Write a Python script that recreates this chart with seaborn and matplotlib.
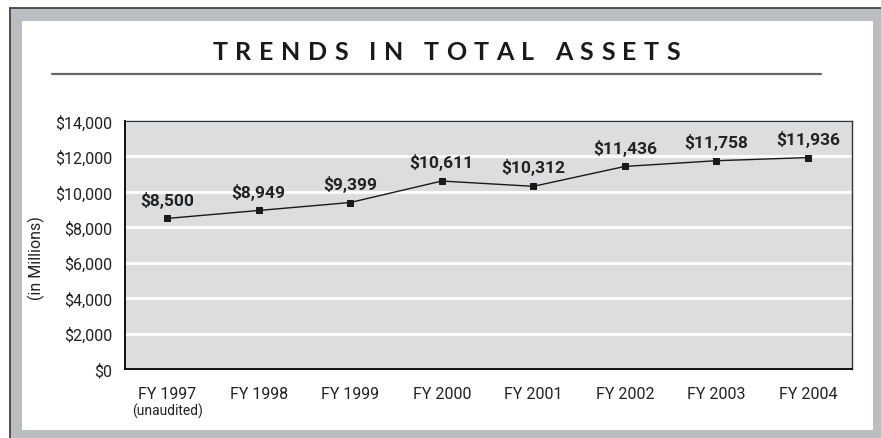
"""
Trends in total assets, FY 1997 - FY 2004
"""

import pandas as pd
import matplotlib.pyplot as plt
import matplotlib.transforms as mtransforms
import seaborn as sns
from matplotlib.patches import Rectangle
from matplotlib.lines import Line2D

# Data (in millions)
years = ['FY 1997', 'FY 1998', 'FY 1999', 'FY 2000', 'FY 2001', 'FY 2002', 'FY 2003', 'FY 2004']
assets = [8500, 8949, 9399, 10611, 10312, 11436, 11758, 11936]
y_ticks = [0, 2000, 4000, 6000, 8000, 10000, 12000, 14000]
title = 'TRENDS IN TOTAL ASSETS'

df = pd.DataFrame({'Year': years, 'Assets': assets})
df['pos'] = range(len(df))

sns.set_style("white")
plt.rcParams['font.family'] = ['Roboto', 'DejaVu Sans']

W, H = 881, 439
fig = plt.figure(figsize=(W / 100, H / 100), dpi=100)
fig.patch.set_facecolor('white')


def fx(px):
    return px / W


def fy(py):
    return 1 - py / H


# gray frame, dark edge on top/left, white inner panel
fig.add_artist(Rectangle((fx(10), 0), 1, fy(9), transform=fig.transFigure,
                         facecolor='#bcbdc0', edgecolor='none', zorder=0))
fig.add_artist(Line2D([fx(10), 1], [fy(9), fy(9)], transform=fig.transFigure,
                      color='#444444', linewidth=1.3))
fig.add_artist(Line2D([fx(10), fx(10)], [0, fy(9)], transform=fig.transFigure,
                      color='#444444', linewidth=1.3))
fig.add_artist(Rectangle((fx(22), fy(431)), fx(873) - fx(22), fy(22) - fy(431),
                         transform=fig.transFigure, facecolor='white', edgecolor='none', zorder=0))

# letter-spaced title, tracked to fit 213..680 px
renderer = fig.canvas.get_renderer()
tkw = dict(fontsize=18, fontweight='bold', color='#1a1a1a', family=['Lato', 'DejaVu Sans'],
           va='center', ha='left')
widths = []
for ch in title:
    if ch == ' ':
        widths.append(6)
        continue
    t = fig.text(0, 0, ch, **tkw)
    widths.append(t.get_window_extent(renderer).width)
    t.remove()
track = (680 - 213 - sum(widths)) / (len(title) - 1)
x = 213
for ch, w in zip(title, widths):
    if ch != ' ':
        fig.text(fx(x), fy(53), ch, **tkw)
    x += w + track

fig.add_artist(Line2D([fx(52), fx(821)], [fy(75), fy(75)], transform=fig.transFigure,
                      color='#666666', linewidth=1.6))

ax = fig.add_axes([fx(125), fy(370), fx(852) - fx(125), fy(122) - fy(370)])
ax.set_facecolor('#dcdddf')

sns.lineplot(data=df, x='pos', y='Assets', ax=ax, color='#1a1a1a', linewidth=1.0,
             marker='s', markersize=4.8, markeredgecolor='#1a1a1a')

for xp, v in zip(df['pos'], df['Assets']):
    ax.annotate(f'${v:,}', (xp, v), xytext=(0, 10), textcoords='offset points',
                ha='center', va='baseline', fontsize=12.5, fontweight='bold', color='#222222')

ax.set_ylim(0, 14000)
ax.set_xlim(-0.46, 7.48)
ax.set_yticks(y_ticks)
ax.set_yticklabels([f'${t:,}' for t in y_ticks])
ax.set_xticks(df['pos'])
ax.set_xticklabels(years)
ax.grid(True, axis='y', color='white', linewidth=2)
ax.set_axisbelow(True)
ax.tick_params(axis='both', length=0, labelsize=11.5, colors='#222222')
ax.tick_params(axis='y', pad=9)
ax.tick_params(axis='x', pad=12)
ax.set_xlabel('')
ax.set_ylabel('(in Millions)', fontsize=11.5, color='#222222')
ax.yaxis.set_label_coords((45 - 125) / (852 - 125), 0.45)

for side in ['left', 'bottom']:
    ax.spines[side].set_color('#111111')
    ax.spines[side].set_linewidth(1.4)
for side in ['top', 'right']:
    ax.spines[side].set_color('#333333')
    ax.spines[side].set_linewidth(1.0)

sub_tr = mtransforms.blended_transform_factory(ax.transData, fig.transFigure)
ax.text(df['pos'][0], fy(411), '(unaudited)', transform=sub_tr, ha='center', va='center',
        fontsize=10, color='#222222')

plt.savefig('out.png', dpi=100, facecolor=fig.get_facecolor())
